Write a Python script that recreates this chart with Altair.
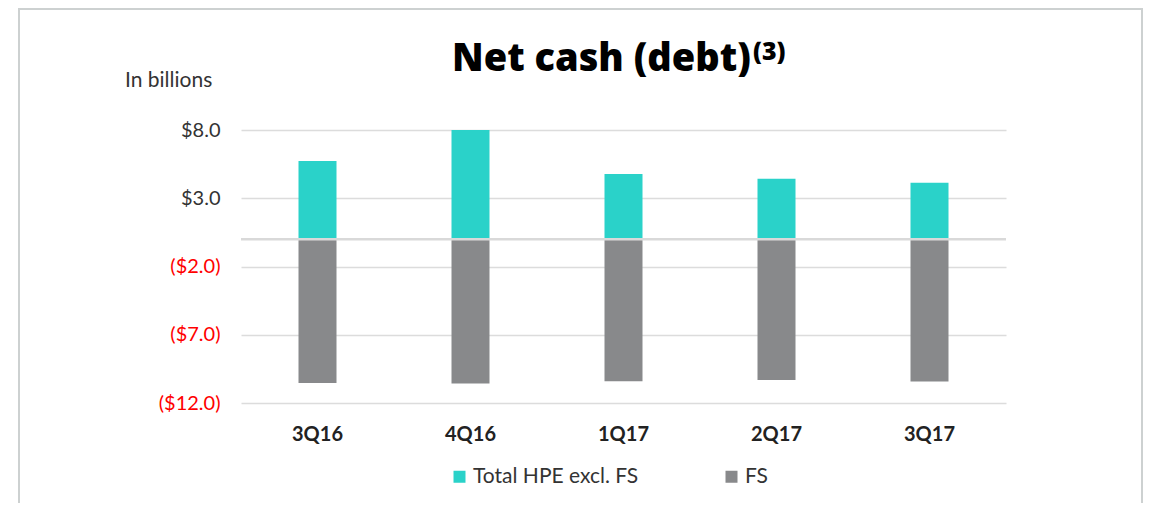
import altair as alt
import pandas as pd

quarters = ["3Q16", "4Q16", "1Q17", "2Q17", "3Q17"]
series = ["Total HPE excl. FS", "FS"]
hpe_excl_fs = [5.73, 8.0, 4.78, 4.43, 4.14]
fs_values = [-10.53, -10.58, -10.41, -10.31, -10.43]
y_ticks = [8, 3, -2, -7, -12]

TEAL = "#2AD2C9"
GRAY = "#88898B"
FONT = "Lato"

rows = []
for q, a, b in zip(quarters, hpe_excl_fs, fs_values):
    rows.append({"quarter": q, "series": series[0], "value": a})
    rows.append({"quarter": q, "series": series[1], "value": b})
df = pd.DataFrame(rows)

PW, PH = 765, 273

bars = alt.Chart(df).mark_bar(size=38).encode(
    x=alt.X("quarter:N", sort=quarters, title=None,
            scale=alt.Scale(paddingInner=0, paddingOuter=0),
            axis=alt.Axis(domain=False, ticks=False, labelAngle=0,
                          labelFont=FONT, labelFontSize=20, labelFontWeight="bold",
                          labelColor="#222222", labelPadding=21)),
    y=alt.Y("value:Q", title=None,
            scale=alt.Scale(domain=[-12, 8], nice=False, zero=False),
            axis=alt.Axis(values=y_ticks, domain=False, ticks=False,
                          grid=True, gridColor="#dcdcdc", gridWidth=1.3,
                          labelFont=FONT, labelFontSize=20, labelPadding=21,
                          labelExpr="datum.value < 0 ? '($' + format(-datum.value, '.1f') + ')' : '$' + format(datum.value, '.1f') + '\u00a0'",
                          labelColor=alt.condition("datum.value < 0", alt.value("#ff0000"), alt.value("#333333")))),
    color=alt.Color("series:N", scale=alt.Scale(domain=series, range=[TEAL, GRAY]),
                    legend=alt.Legend(title=None, orient="none", direction="horizontal",
                                      legendX=208, legendY=336,
                                      symbolType="square", symbolSize=144,
                                      symbolStrokeWidth=0, symbolOpacity=1,
                                      labelFont=FONT, labelFontSize=21, labelColor="#333333",
                                      labelLimit=400,
                                      labelOffset=3, columnPadding=82)),
    order=alt.Order("series:N", sort="descending"),
)

zero_rule = alt.Chart(pd.DataFrame({"v": [0]})).mark_rule(
    color="#d9d9d9", strokeWidth=2.5
).encode(y="v:Q")

one = pd.DataFrame({"t": ["x"]})

title_main = alt.Chart(one).mark_text(
    text="Net cash (debt)", font="Open Sans", fontSize=38, fontWeight=800,
    align="left", baseline="alphabetic", color="#000000"
).encode(x=alt.value(211), y=alt.value(-59))

title_sup = alt.Chart(one).mark_text(
    text="(3)", font="Open Sans", fontSize=25, fontWeight=800,
    align="left", baseline="alphabetic", color="#000000"
).encode(x=alt.value(512), y=alt.value(-70))

units = alt.Chart(one).mark_text(
    text="In billions", font=FONT, fontSize=21,
    align="left", baseline="alphabetic", color="#333333"
).encode(x=alt.value(-116), y=alt.value(-43))

left_border = alt.Chart(one).mark_rule(color="#cdd1d1", strokeWidth=2).encode(
    x=alt.value(-222), y=alt.value(-122), y2=alt.value(380))
top_border = alt.Chart(one).mark_rule(color="#cdd1d1", strokeWidth=2).encode(
    x=alt.value(-223), x2=alt.value(902), y=alt.value(-121))
right_border = alt.Chart(one).mark_rule(color="#cdd1d1", strokeWidth=2).encode(
    x=alt.value(901), y=alt.value(-122), y2=alt.value(380))

chart = alt.layer(
    bars, zero_rule, title_main, title_sup, units, left_border, top_border, right_border
).properties(
    width=PW, height=PH,
    autosize=alt.AutoSizeParams(type="none"),
    padding={"left": 233, "top": 122, "right": 138, "bottom": 100},
).configure_view(stroke=None)

chart.save("out.html", embed_options={"renderer": "svg", "actions": False})
